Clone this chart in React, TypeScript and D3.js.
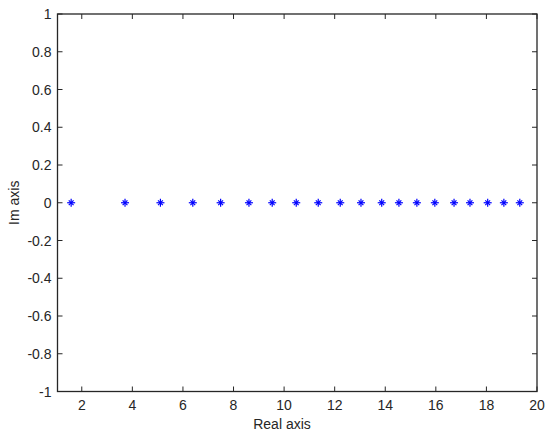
import React from "react";
import * as d3 from "d3";

const realParts = [1.58, 3.71, 5.11, 6.39, 7.49, 8.61, 9.53, 10.48, 11.35, 12.22, 13.04, 13.86, 14.54, 15.25, 15.96, 16.72, 17.35, 18.05, 18.69, 19.32];
const imagParts = [0, 0, 0, 0, 0, 0, 0, 0, 0, 0, 0, 0, 0, 0, 0, 0, 0, 0, 0, 0];
const xTicks = [2, 4, 6, 8, 10, 12, 14, 16, 18, 20];
const yTicks = [-1, -0.8, -0.6, -0.4, -0.2, 0, 0.2, 0.4, 0.6, 0.8, 1];
const xDomain = [1.04, 20];
const yDomain = [-1, 1];

export default function App() {
  const W = 550, H = 438;
  const left = 57.5, right = 537, top = 14, bottom = 391.5;
  const x = d3.scaleLinear().domain(xDomain).range([left, right]);
  const y = d3.scaleLinear().domain(yDomain).range([bottom, top]);
  const tl = 5;
  const font = "Liberation Sans, Arial, sans-serif";
  const fs = 14;
  const col = "#262626";
  const r = 4;
  return (
    <svg width={W} height={H} style={{ position: "absolute", left: 0, top: 0, background: "#fff" }}>
      <rect x={0} y={0} width={W} height={H} fill="#fff" />
      {xTicks.map((t) => (
        <g key={"x" + t}>
          <line x1={x(t)} x2={x(t)} y1={bottom} y2={bottom - tl} stroke={col} strokeWidth={1} />
          <line x1={x(t)} x2={x(t)} y1={top} y2={top + tl} stroke={col} strokeWidth={1} />
          <text x={x(t)} y={bottom + 18} textAnchor="middle" fontFamily={font} fontSize={fs} fill={col}>{String(t)}</text>
        </g>
      ))}
      {yTicks.map((t) => (
        <g key={"y" + t}>
          <line x1={left} x2={left + tl} y1={y(t)} y2={y(t)} stroke={col} strokeWidth={1} />
          <line x1={right} x2={right - tl} y1={y(t)} y2={y(t)} stroke={col} strokeWidth={1} />
          <text x={left - 6} y={y(t) + 5} textAnchor="end" fontFamily={font} fontSize={fs} fill={col}>{String(t)}</text>
        </g>
      ))}
      <rect x={left} y={top} width={right - left} height={bottom - top} fill="none" stroke={col} strokeWidth={1.3} />
      {realParts.map((re, i) => {
        const cx = x(re), cy = y(imagParts[i]);
        return (
          <g key={"p" + i} stroke="#0000ff" strokeWidth={1.2}>
            <line x1={cx - r} x2={cx + r} y1={cy} y2={cy} />
            <line x1={cx} x2={cx} y1={cy - r} y2={cy + r} />
            <line x1={cx - r * 0.6} x2={cx + r * 0.6} y1={cy - r * 0.6} y2={cy + r * 0.6} />
            <line x1={cx - r * 0.6} x2={cx + r * 0.6} y1={cy + r * 0.6} y2={cy - r * 0.6} />
          </g>
        );
      })}
      <text x={282} y={429} textAnchor="middle" fontFamily={font} fontSize={fs} fill={col}>Real axis</text>
      <text transform={`translate(19,${(top + bottom) / 2}) rotate(-90)`} textAnchor="middle" fontFamily={font} fontSize={fs} fill={col}>Im axis</text>
    </svg>
  );
}
